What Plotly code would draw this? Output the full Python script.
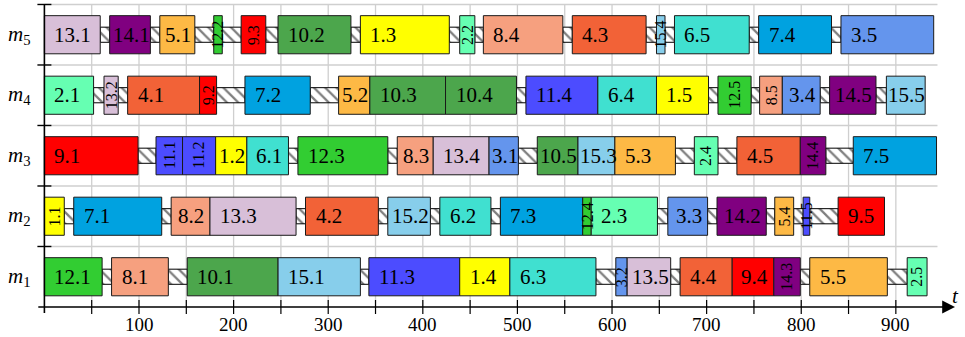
import plotly.graph_objects as go

# ---------------- data ----------------
machine_names = ["m1", "m2", "m3", "m4", "m5"]

m1_ops = ["12.1", "8.1", "10.1", "15.1", "11.3", "1.4", "6.3", "3.2", "13.5", "4.4", "9.4", "14.3", "5.5", "2.5"]
m1_start = [0, 71, 151, 247, 343, 439, 492, 604, 616, 672, 727, 771, 809, 912]
m1_end = [61, 131, 247, 334, 439, 492, 583, 616, 662, 727, 771, 799, 891, 933]

m2_ops = ["1.1", "7.1", "8.2", "13.3", "4.2", "15.2", "6.2", "7.3", "12.4", "2.3", "3.3", "14.2", "5.4", "11.5", "9.5"]
m2_start = [0, 31, 134, 175, 276, 363, 418, 482, 569, 578, 659, 711, 772, 802, 839]
m2_end = [21, 124, 175, 266, 353, 408, 472, 569, 578, 648, 701, 763, 792, 809, 888]

m3_ops = ["9.1", "11.1", "11.2", "1.2", "6.1", "12.3", "8.3", "13.4", "3.1", "10.5", "15.3", "5.3", "2.4", "4.5", "14.4", "7.5"]
m3_start = [0, 118, 146, 181, 214, 268, 373, 411, 470, 521, 564, 603, 687, 732, 799, 855]
m3_end = [99, 146, 181, 214, 258, 363, 411, 470, 501, 564, 603, 667, 712, 799, 826, 943]

m4_ops = ["2.1", "13.2", "4.1", "9.2", "7.2", "5.2", "10.3", "10.4", "11.4", "6.4", "1.5", "12.5", "8.5", "3.4", "14.5", "15.5"]
m4_start = [0, 63, 88, 164, 212, 311, 344, 424, 509, 585, 647, 712, 756, 780, 830, 890]
m4_end = [52, 78, 164, 182, 281, 344, 424, 499, 585, 647, 702, 747, 780, 820, 879, 931]

m5_ops = ["13.1", "14.1", "5.1", "12.2", "9.3", "10.2", "1.3", "2.2", "8.4", "4.3", "15.4", "6.5", "7.4", "3.5"]
m5_start = [0, 69, 122, 179, 208, 247, 334, 439, 464, 558, 647, 666, 755, 842]
m5_end = [59, 112, 159, 188, 234, 324, 428, 455, 548, 636, 656, 745, 832, 940]

job_colors = {
    1: "#FFFF00", 2: "#66FFB2", 3: "#6495ED", 4: "#F26237", 5: "#FDB945",
    6: "#40E0D0", 7: "#00A2E0", 8: "#F6A07F", 9: "#FF0000", 10: "#4CA64C",
    11: "#4C4CFF", 12: "#32CD32", 13: "#D8BFD8", 14: "#800080", 15: "#87CEEB",
}

x_tick_vals = [50, 100, 150, 200, 250, 300, 350, 400, 450, 500, 550, 600, 650, 700, 750, 800, 850, 900]
x_tick_labels = ["100", "200", "300", "400", "500", "600", "700", "800", "900"]
x_tick_label_vals = [100, 200, 300, 400, 500, 600, 700, 800, 900]

# ---------------- geometry / style ----------------
W, H = 965, 337
X_RANGE = [-46.93, 973.1]
Y_RANGE = [-0.496, 5.074]
PX_PER_X = W / (X_RANGE[1] - X_RANGE[0])
PX_PER_Y = H / (Y_RANGE[1] - Y_RANGE[0])
SERIF = "Liberation Serif"
FS = 21      # label font
FS_ROT = 16  # rotated label font

rows = [
    (1, m1_ops, m1_start, m1_end),
    (2, m2_ops, m2_start, m2_end),
    (3, m3_ops, m3_start, m3_end),
    (4, m4_ops, m4_start, m4_end),
    (5, m5_ops, m5_start, m5_end),
]

job_x, job_base, job_y, job_col = [], [], [], []
idle_x, idle_base, idle_y = [], [], []
annotations = []

for k, ops, st, en in rows:
    yc = k - 0.5
    for i, (lab, s, e) in enumerate(zip(ops, st, en)):
        job_base.append(s)
        job_x.append(e - s)
        job_y.append(yc)
        job_col.append(job_colors[int(lab.split(".")[0])])
        if i > 0 and s > en[i - 1]:
            idle_base.append(en[i - 1])
            idle_x.append(s - en[i - 1])
            idle_y.append(yc)
        w_units = e - s
        if w_units < 9.3 * len(lab):
            annotations.append(dict(
                x=(s + e) / 2, y=yc, xref="x", yref="y", text=lab, showarrow=False,
                textangle=-90, xanchor="center", yanchor="middle",
                font=dict(family=SERIF, size=FS_ROT, color="black")))
        else:
            ndig = len(lab) - 1
            tw = FS * (0.5 * ndig + 0.25)
            wpx = w_units * PX_PER_X
            pad = max(0.0, min(8.0, (wpx - tw) / 2 - 1))
            annotations.append(dict(
                x=s, y=yc, xref="x", yref="y", text=lab, showarrow=False,
                xanchor="left", yanchor="middle", xshift=pad,
                font=dict(family=SERIF, size=FS, color="black")))

fig = go.Figure()

fig.add_trace(go.Bar(
    orientation="h", base=idle_base, x=idle_x, y=idle_y, width=0.25,
    marker=dict(color="white", line=dict(color="black", width=1),
                pattern=dict(shape="\\", fgcolor="black", bgcolor="white", size=8, solidity=0.28)),
    hoverinfo="skip", showlegend=False))

fig.add_trace(go.Bar(
    orientation="h", base=job_base, x=job_x, y=job_y, width=0.63,
    marker=dict(color=job_col, line=dict(color="#1a1a1a", width=1)),
    hoverinfo="skip", showlegend=False))

shapes = []
GRID = "#cfcfcf"
for xv in x_tick_vals:
    shapes.append(dict(type="line", xref="x", yref="y", x0=xv, x1=xv, y0=0, y1=5,
                       line=dict(color=GRID, width=1.3), layer="below"))
for k in range(1, 6):
    shapes.append(dict(type="line", xref="x", yref="y", x0=0, x1=944, y0=k, y1=k,
                       line=dict(color=GRID, width=1.3), layer="below"))

tick_dx = 7 / PX_PER_X
tick_dy = 7 / PX_PER_Y
# y axis line
shapes.append(dict(type="line", xref="x", yref="y", x0=0, x1=0, y0=-6 / PX_PER_Y, y1=5.0,
                   line=dict(color="black", width=1.6), layer="above"))
for k in range(1, 6):
    shapes.append(dict(type="line", xref="x", yref="y", x0=-tick_dx, x1=tick_dx, y0=k, y1=k,
                       line=dict(color="black", width=1.4), layer="above"))
for xv in x_tick_vals:
    shapes.append(dict(type="line", xref="x", yref="y", x0=xv, x1=xv, y0=-tick_dy, y1=tick_dy,
                       line=dict(color="black", width=1.2), layer="above"))

# x axis with arrow
x_tail = -7.6 / PX_PER_X
x_tip = (955 - 44.4) / PX_PER_X
annotations.append(dict(x=x_tip, y=0, ax=x_tail, ay=0, xref="x", yref="y", axref="x", ayref="y",
                        showarrow=True, arrowhead=2, arrowsize=1.6, arrowwidth=1.6,
                        arrowcolor="black", text=""))

for xv, tl in zip(x_tick_label_vals, x_tick_labels):
    annotations.append(dict(x=xv, y=-18 / PX_PER_Y, xref="x", yref="y", text=tl, showarrow=False,
                            xanchor="center", yanchor="middle",
                            font=dict(family=SERIF, size=19, color="black")))

annotations.append(dict(x=x_tip, y=11 / PX_PER_Y, xref="x", yref="y", text="<i>t</i>",
                        showarrow=False, xanchor="center", yanchor="middle",
                        font=dict(family=SERIF, size=21, color="black")))

for k, name in enumerate(machine_names, start=1):
    annotations.append(dict(x=-24.5 / PX_PER_X, y=k - 0.5, xref="x", yref="y",
                            text="<i>%s</i><sub>%s</sub>" % (name[0], name[1:]),
                            showarrow=False, xanchor="center", yanchor="middle",
                            font=dict(family=SERIF, size=21, color="black")))

fig.update_layout(
    width=W, height=H, margin=dict(l=0, r=0, t=0, b=0),
    paper_bgcolor="white", plot_bgcolor="white",
    barmode="overlay",
    xaxis=dict(range=X_RANGE, visible=False, fixedrange=True),
    yaxis=dict(range=Y_RANGE, visible=False, fixedrange=True),
    shapes=shapes, annotations=annotations, showlegend=False,
)

fig.write_html("out.html", config={"displayModeBar": False},
               post_script="document.body.style.margin='0';document.body.style.overflow='hidden';")
